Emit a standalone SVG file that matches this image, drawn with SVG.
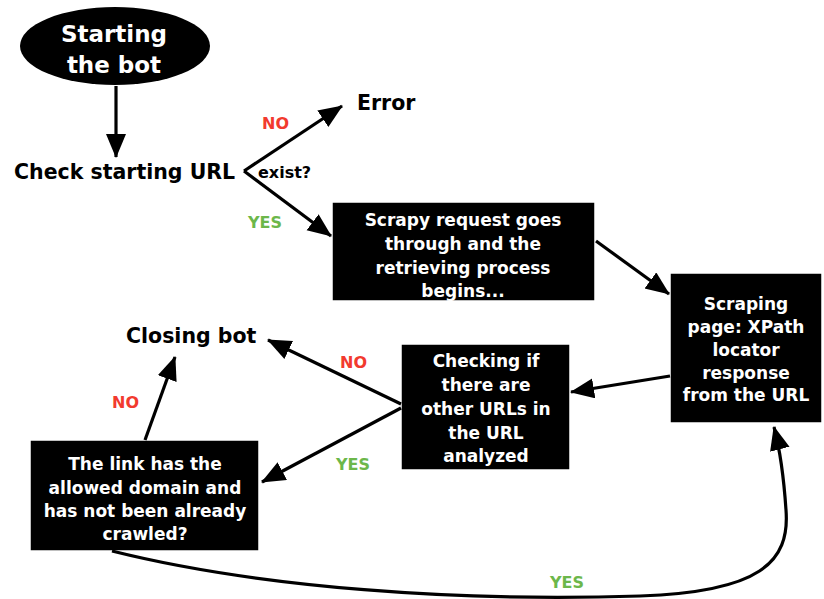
<svg xmlns="http://www.w3.org/2000/svg" width="824" height="599" viewBox="0 0 824 599">
<style>
text{font-family:"DejaVu Sans","Liberation Sans",sans-serif;font-weight:bold}
.w{fill:#fff;font-size:17px;text-anchor:middle}
.k{fill:#000;font-size:20.5px}
.no{fill:#f23a2e;font-size:16px}
.yes{fill:#6cb74a;font-size:16px}
.box{fill:#000;stroke:#fff;stroke-width:1.5}
.ln{fill:none;stroke:#000;stroke-width:3.2}
</style>
<defs>
<marker id="ah" markerUnits="userSpaceOnUse" markerWidth="26" markerHeight="22" refX="23" refY="10" orient="auto">
<path d="M0,0 L24,10 L0,20 z" fill="#000"/>
</marker>
</defs>
<rect width="824" height="599" fill="#fff"/>
<g id="start">
<ellipse cx="115" cy="46" rx="95" ry="39" fill="#000"/>
<text x="114" y="42" class="w" style="font-size:23px">Starting</text>
<text x="114" y="73" class="w" style="font-size:23px">the bot</text>
</g>
<g id="check">
<text x="14" y="179" class="k">Check starting URL</text>
<text x="258" y="178" style="font-size:16px">exist?</text>
</g>
<g id="error"><text x="357" y="110" class="k">Error</text></g>
<g id="scrapy">
<rect x="332" y="202" width="263" height="99" class="box"/>
<text x="463" y="226" class="w">Scrapy request goes</text>
<text x="463" y="250" class="w">through and the</text>
<text x="463" y="274" class="w">retrieving process</text>
<text x="463" y="297" class="w">begins...</text>
</g>
<g id="scraping">
<rect x="670" y="273" width="152" height="150" class="box"/>
<text x="746" y="310" class="w">Scraping</text>
<text x="746" y="333" class="w">page: XPath</text>
<text x="746" y="356" class="w">locator</text>
<text x="746" y="379" class="w">response</text>
<text x="746" y="401" class="w">from the URL</text>
</g>
<g id="checking">
<rect x="401" y="344" width="169" height="126" class="box"/>
<text x="486" y="367" class="w">Checking if</text>
<text x="486" y="391" class="w">there are</text>
<text x="486" y="415" class="w">other URLs in</text>
<text x="486" y="439" class="w">the URL</text>
<text x="486" y="462" class="w">analyzed</text>
</g>
<g id="closing"><text x="126" y="343" class="k">Closing bot</text></g>
<g id="link">
<rect x="30" y="440" width="229" height="111" class="box"/>
<text x="145" y="470" class="w">The link has the</text>
<text x="145" y="494" class="w">allowed domain and</text>
<text x="145" y="517" class="w">has not been already</text>
<text x="145" y="540" class="w">crawled?</text>
</g>
<g id="connectors">
<path d="M116,86 V157" class="ln" marker-end="url(#ah)"/>
<path d="M244,171 L342,106" class="ln" marker-end="url(#ah)"/>
<path d="M244,171 L331,236" class="ln" marker-end="url(#ah)"/>
<path d="M596,241 L669,294" class="ln" marker-end="url(#ah)"/>
<path d="M670,376 L571,392" class="ln" marker-end="url(#ah)"/>
<path d="M401,404 L268,340" class="ln" marker-end="url(#ah)"/>
<path d="M401,408 L262,482" class="ln" marker-end="url(#ah)"/>
<path d="M145,440 L175,357" class="ln" marker-end="url(#ah)"/>
<path d="M112,551 C260,588 460,602 640,596 C760,592 790,562 786,510 C784,480 780,450 774,427" class="ln" marker-end="url(#ah)"/>
<text x="262" y="129" class="no">NO</text>
<text x="248" y="228" class="yes">YES</text>
<text x="340" y="368" class="no">NO</text>
<text x="336" y="470" class="yes">YES</text>
<text x="112" y="408" class="no">NO</text>
<text x="550" y="588" class="yes">YES</text>
</g>
</svg>
